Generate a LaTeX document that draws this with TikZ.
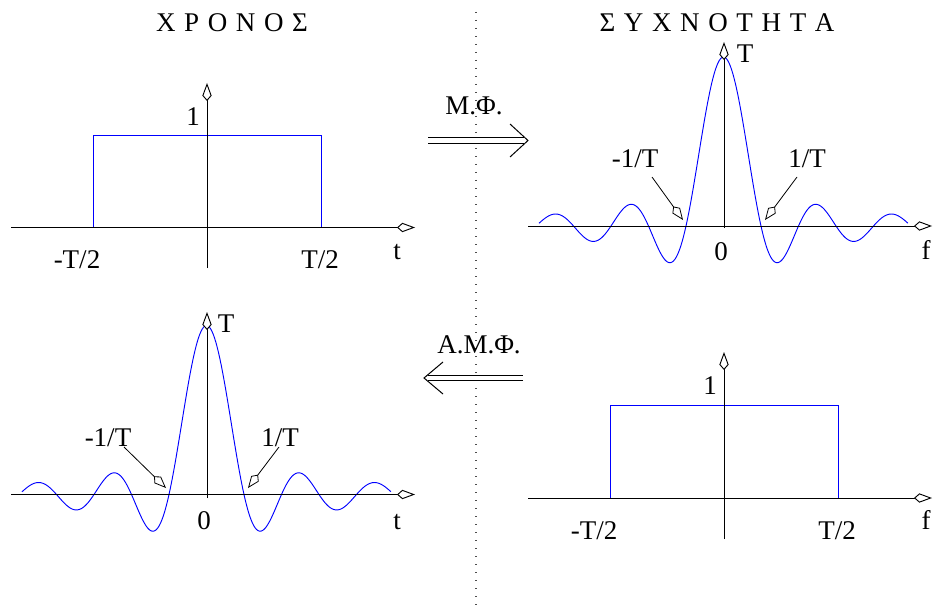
\documentclass[tikz,border=0pt]{standalone}
\usepackage{fontspec}
\setmainfont{Liberation Serif}
\usetikzlibrary{arrows.meta}
\newcommand\lsp{\hspace{0.32em}}
\begin{document}
\begin{tikzpicture}[x=0.75pt,y=-0.75pt,
  axis/.style={line width=0.7pt,-{Kite[fill=white,length=13.5pt,width=7pt,inset=4pt]}},
  pointer/.style={line width=0.6pt,-{Kite[fill=white,length=12.5pt,width=7pt,inset=3.8pt]}},
  sig/.style={draw=blue,line width=0.7pt},
  lbl/.style={anchor=base,inner sep=0pt,font=\fontsize{20.25}{24}\selectfont},
  dblline/.style={double,double distance=3.6pt,line width=0.6pt},
  headline/.style={line width=0.75pt},
  sepline/.style={line width=0.9pt,dash pattern=on 0.9pt off 5.1pt,black!70}
]
\useasboundingbox (0,0) rectangle (936,610);

% separator
\coordinate (sepT) at (476,12);
\coordinate (sepB) at (476,606);
\draw[sepline] (sepT) -- (sepB);

% titles
\node[lbl] (titleL) at (232,32) {Χ\lsp Ρ\lsp Ο\lsp Ν\lsp Ο\lsp Σ};
\node[lbl] (titleR) at (717,32) {Σ\lsp Υ\lsp Χ\lsp Ν\lsp Ο\lsp Τ\lsp Η\lsp Τ\lsp Α};

% ---------- top left: rectangle in time ----------
\coordinate (tlx0) at (11,227.5);
\coordinate (tlx1) at (415,227.5);
\coordinate (tly0) at (207,268);
\coordinate (tly1) at (207,83);
\coordinate (tlr0) at (93,227.5);
\coordinate (tlr1) at (321,135);
\draw[sig] (tlr0) |- (tlr1) -- (321,227.5);
\draw[axis] (tlx0) -- (tlx1);
\draw[axis] (tly0) -- (tly1);
\node[lbl] (tlone) at (193,126) {1};
\node[lbl] (tlmT) at (77,268) {-T/2};
\node[lbl] (tlpT) at (320,268) {T/2};
\node[lbl] (tlt) at (397,259) {t};

% ---------- top right: sinc in frequency ----------
\draw[sig] plot[domain=-4.92:4.92,samples=300,smooth]
  ({723.5+37.5*\x},{226-169*sin(180*\x)/(pi*\x)});
\coordinate (trx0) at (528,226);
\coordinate (trx1) at (932,226);
\coordinate (try0) at (724,228);
\coordinate (try1) at (724,42);
\draw[axis] (trx0) -- (trx1);
\draw[axis] (try0) -- (try1);
\node[lbl] (trT) at (745,63) {T};
\node[lbl] (trzero) at (721,260) {0};
\node[lbl] (trf) at (926,259) {f};
\node[lbl] (trm) at (635,167) {-1/T};
\node[lbl] (trp) at (807,167) {1/T};
\coordinate (trmS) at (652,177);
\coordinate (trmE) at (683,220);
\coordinate (trpS) at (797,177);
\coordinate (trpE) at (765,220);
\draw[pointer] (trmS) -- (trmE);
\draw[pointer] (trpS) -- (trpE);

% ---------- bottom left: sinc in time ----------
\draw[sig] plot[domain=-4.92:4.92,samples=300,smooth]
  ({206.5+37.5*\x},{494.5-169*sin(180*\x)/(pi*\x)});
\coordinate (blx0) at (11,494.5);
\coordinate (blx1) at (415,494.5);
\coordinate (bly0) at (207,498);
\coordinate (bly1) at (207,312);
\draw[axis] (blx0) -- (blx1);
\draw[axis] (bly0) -- (bly1);
\node[lbl] (blT) at (226,332) {T};
\node[lbl] (blzero) at (204,529) {0};
\node[lbl] (blt) at (397,529) {t};
\node[lbl] (blm) at (108,446) {-1/T};
\node[lbl] (blp) at (280,446) {1/T};
\coordinate (blmS) at (124,447);
\coordinate (blmE) at (166,488);
\coordinate (blpS) at (279,447);
\coordinate (blpE) at (248,488);
\draw[pointer] (blmS) -- (blmE);
\draw[pointer] (blpS) -- (blpE);

% ---------- bottom right: rectangle in frequency ----------
\coordinate (brx0) at (528,498);
\coordinate (brx1) at (932,498);
\coordinate (bry0) at (724,539);
\coordinate (bry1) at (724,352);
\coordinate (brr0) at (610,498);
\coordinate (brr1) at (838,405);
\draw[sig] (brr0) |- (brr1) -- (838,498);
\draw[axis] (brx0) -- (brx1);
\draw[axis] (bry0) -- (bry1);
\node[lbl] (brone) at (710,394) {1};
\node[lbl] (brmT) at (594,539) {-T/2};
\node[lbl] (brpT) at (837,539) {T/2};
\node[lbl] (brf) at (926,529) {f};

% ---------- transform arrows ----------
\node[lbl] (mf) at (474,115) {Μ.Φ.};
\coordinate (mfS) at (428,140.5);
\coordinate (mfE) at (524,140.5);
\coordinate (mfTip) at (528,140.5);
\coordinate (mfU) at (510,124);
\coordinate (mfL) at (510,157);
\draw[dblline] (mfS) -- (mfE);
\draw[headline] (mfU) -- (mfTip) -- (mfL);

\node[lbl] (amf) at (479,353) {Α.Μ.Φ.};
\coordinate (amfS) at (523,378);
\coordinate (amfE) at (428,378);
\coordinate (amfTip) at (424,378);
\coordinate (amfU) at (443,362);
\coordinate (amfL) at (443,394);
\draw[dblline] (amfS) -- (amfE);
\draw[headline] (amfU) -- (amfTip) -- (amfL);
\end{tikzpicture}
\end{document}
